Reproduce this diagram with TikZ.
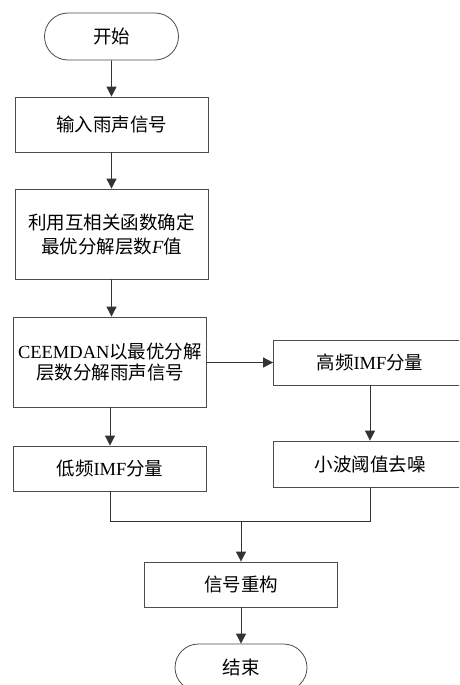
\documentclass[tikz,border=0pt]{standalone}
\usepackage{fontspec}
\setmainfont{Liberation Serif}
\newfontfamily\cjk{Noto Sans CJK SC}
\usetikzlibrary{arrows.meta,shapes.misc}
\begin{document}
\begin{tikzpicture}[x=1pt,y=-1pt,
  base/.style={draw=black!70,line width=0.8pt,inner sep=0pt,align=center,font=\fontsize{18.5}{22}\selectfont,text=black},
  procbox/.style={base,rectangle,minimum width=193pt},
  termbox/.style={base,rounded rectangle,minimum width=134pt,minimum height=47pt},
  conn/.style={draw=black!80,line width=0.8pt},
  arr/.style={conn,-{Triangle[width=10pt,length=10pt]}}]
\useasboundingbox (0,0) rectangle (459,685);
\clip (0,0) rectangle (459,685);
\node[termbox] (start) at (111.5,36.5) {\cjk 开始};
\node[procbox,minimum height=55pt] (in) at (111.5,124.5) {\cjk 输入雨声信号};
\node[procbox,minimum height=90pt] (corr) at (111.5,234) {\cjk 利用互相关函数确定\\[2pt]{\cjk 最优分解层数}\textit{F}{\cjk 值}};
\node[procbox,minimum height=90pt] (ceem) at (110,362) {CEEMDAN{\cjk 以最优分解}\\[-1pt]{\cjk 层数分解雨声信号}};
\node[procbox,minimum height=45pt] (high) at (370,362.5) {{\cjk 高频}IMF{\cjk 分量}};
\node[procbox,minimum height=46pt] (wav) at (370,464) {\cjk 小波阈值去噪};
\node[procbox,minimum height=45pt] (low) at (110,468.5) {{\cjk 低频}IMF{\cjk 分量}};
\node[procbox,minimum height=45pt] (rec) at (241,584.5) {\cjk 信号重构};
\node[termbox,minimum width=132pt] (end) at (241,667.5) {\cjk 结束};
\coordinate (mL) at (110,521);
\coordinate (mR) at (370,521);
\coordinate (mC) at (241,521);
\draw[arr] (start) -- (in);
\draw[arr] (in) -- (corr);
\draw[arr] (corr.south) -- (corr.south |- ceem.north);
\draw[arr] (ceem.east |- high.west) -- (high.west);
\draw[arr] (high) -- (wav);
\draw[arr] (ceem) -- (low);
\draw[conn] (low.south) -- (mL) -- (mR) -- (wav.south);
\draw[arr] (mC) -- (rec);
\draw[arr] (rec) -- (end);
\end{tikzpicture}
\end{document}
